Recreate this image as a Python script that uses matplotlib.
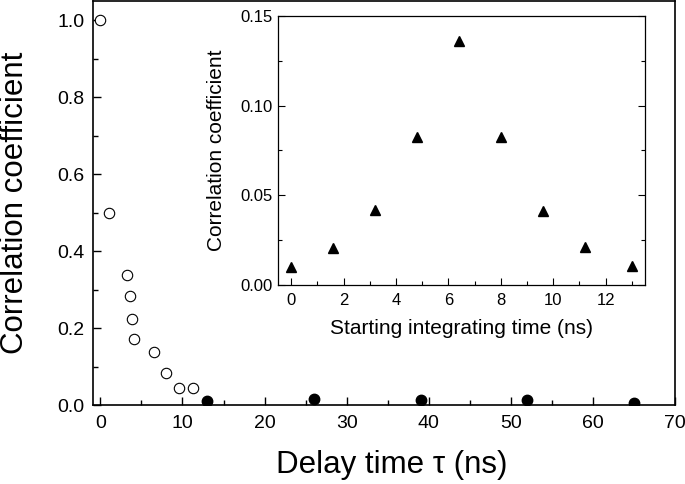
"""
Correlation coefficient vs delay time, with inset vs starting integrating time.
"""

import matplotlib
matplotlib.use("Agg")
import matplotlib.pyplot as plt
from matplotlib.ticker import MultipleLocator

plt.rcParams['font.family'] = ['Liberation Sans', 'DejaVu Sans']

# main panel: open circles (within one period), filled circles (period multiples)
delay_open = [0.0, 1.1, 3.25, 3.65, 3.85, 4.1, 6.5, 8.0, 9.6, 11.3]
corr_open = [1.0, 0.50, 0.338, 0.283, 0.223, 0.171, 0.137, 0.083, 0.045, 0.045]
delay_fill = [13, 26, 39, 52, 65]
corr_fill = [0.010, 0.015, 0.013, 0.012, 0.005]

# inset: correlation vs starting integrating time
start_time = [0.0, 1.6, 3.2, 4.8, 6.4, 8.0, 9.6, 11.2, 13.0]
corr_inset = [0.0102, 0.0205, 0.0417, 0.0825, 0.136, 0.0825, 0.041, 0.021, 0.0106]

fig = plt.figure(figsize=(6.85, 4.84), dpi=100)
ax = fig.add_axes([0.1358, 0.1632, 0.8496, 0.835])

ax.plot(delay_open, corr_open, 'o', ms=7.5, mfc='white', mec='black', mew=0.8, clip_on=False)
ax.plot(delay_fill, corr_fill, 'o', ms=7.5, mfc='black', mec='black', clip_on=True)

ax.set_xlim(-0.9, 70)
ax.set_ylim(0, 1.05)
ax.xaxis.set_major_locator(MultipleLocator(10))
ax.xaxis.set_minor_locator(MultipleLocator(5))
ax.yaxis.set_major_locator(MultipleLocator(0.2))
ax.yaxis.set_minor_locator(MultipleLocator(0.1))
ax.yaxis.set_major_formatter(plt.FormatStrFormatter('%.1f'))
ax.tick_params(which='both', direction='in', top=False, right=False, labelsize=14, width=1)
ax.tick_params(which='major', length=6)
ax.tick_params(which='minor', length=3.5)
ax.tick_params(axis='x', pad=7)
ax.tick_params(axis='y', pad=6)
ax.set_xlabel("Delay time \u03c4 (ns)", fontsize=22.5)
ax.xaxis.set_label_coords(0.514, -0.112, transform=ax.transAxes)
ax.xaxis.label.set_va('top')
ax.set_ylabel("Correlation coefficient", fontsize=22.5, labelpad=20)
for s in ax.spines.values():
    s.set_linewidth(1.2)

# inset
axi = fig.add_axes([0.4058, 0.4112, 0.5358, 0.5558])
axi.plot(start_time, corr_inset, '^', ms=7.5, color='black')
axi.set_xlim(-0.5, 13.5)
axi.set_ylim(0, 0.15)
axi.xaxis.set_major_locator(MultipleLocator(2))
axi.xaxis.set_minor_locator(MultipleLocator(1))
axi.yaxis.set_major_locator(MultipleLocator(0.05))
axi.yaxis.set_minor_locator(MultipleLocator(0.025))
axi.yaxis.set_major_formatter(plt.FormatStrFormatter('%.2f'))
axi.tick_params(which='both', direction='in', top=False, right=True, labelsize=12, width=0.8)
axi.tick_params(which='major', length=5)
axi.tick_params(which='minor', length=3)
axi.tick_params(axis='x', pad=6)
axi.tick_params(axis='y', pad=4)
axi.set_xlabel("Starting integrating time (ns)", fontsize=15, labelpad=8)
axi.set_ylabel("Correlation coefficient", fontsize=15, labelpad=10)
for s in axi.spines.values():
    s.set_linewidth(0.9)

fig.savefig("out.png", dpi=100)
